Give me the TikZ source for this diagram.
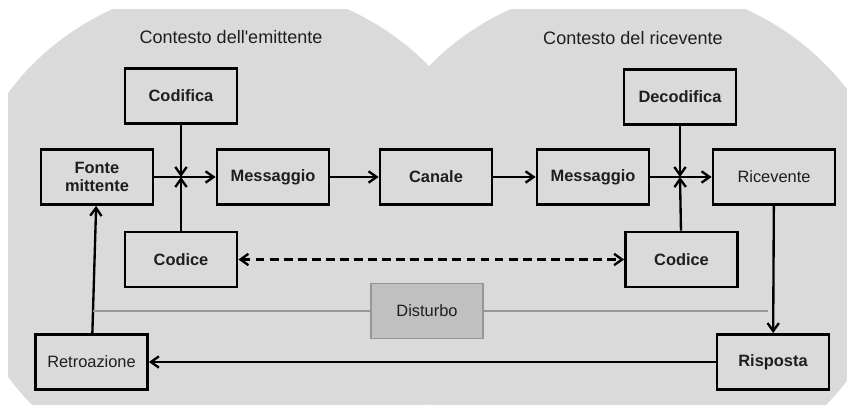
\documentclass[tikz,border=0pt]{standalone}
\usepackage{fontspec}
\setmainfont{Liberation Sans}
\usepackage{tikz}
\usetikzlibrary{arrows.meta,positioning,calc}

\definecolor{ctxgray}{RGB}{218,218,218}
\definecolor{noisegray}{RGB}{192,192,192}
\definecolor{noiseline}{RGB}{150,150,150}
\definecolor{inkgray}{RGB}{30,30,30}

\begin{document}
\begin{tikzpicture}[
    x=0.03cm, y=-0.03cm,
    >={Straight Barb[length=2.4mm,width=3.4mm]},
    stage/.style={
        rectangle,
        draw=black,
        line width=2.4pt,
        fill=ctxgray,
        minimum width=3.36cm,
        minimum height=1.65cm,
        inner sep=2pt,
        text=inkgray,
        font=\fontsize{14}{16}\selectfont,
        align=center
    },
    ctxlabel/.style={
        text=inkgray,
        font=\fontsize{15.4}{18}\selectfont
    },
    flow/.style={
        ->,
        line width=2pt
    },
    noise/.style={
        draw=noiseline,
        line width=1.5pt
    }
]
\useasboundingbox (0,0) rectangle (847,405);

% ---- Sender and receiver contexts (two overlapping discs) ----
\begin{scope}
    \clip (8,10) rectangle (847,405);
    \fill[ctxgray] (230,235) ellipse [x radius=8.07cm, y radius=7.53cm];
    \fill[ctxgray] (628,235) ellipse [x radius=8.07cm, y radius=7.53cm];
\end{scope}

\node[ctxlabel] (ctxsend) at (231,37) {Contesto dell\textquotesingle emittente};
\node[ctxlabel] (ctxrecv) at (633,38) {Contesto del ricevente};

% ---- Top row: coding / decoding ----
\node[stage, font=\fontsize{14}{16}\selectfont\bfseries] (codifica)   at (181,96)  {Codifica};
\node[stage, font=\fontsize{14}{16}\selectfont\bfseries] (decodifica) at (680,97)  {Decodifica};

% ---- Middle row: the message chain ----
\node[stage, font=\fontsize{14}{16}\selectfont\bfseries] (fonte)     at (97,177)  {Fonte\\mittente};
\node[stage, font=\fontsize{14}{16}\selectfont\bfseries] (mess1)     at (273,177) {Messaggio};
\node[stage, font=\fontsize{14}{16}\selectfont\bfseries] (canale)    at (436,177) {Canale};
\node[stage, font=\fontsize{14}{16}\selectfont\bfseries] (mess2)     at (593,177) {Messaggio};
\node[stage, minimum width=3.66cm] (ricevente) at (774,177) {Ricevente};

% ---- Codes ----
\node[stage, font=\fontsize{14}{16}\selectfont\bfseries] (codiceL) at (181,259.5) {Codice};
\node[stage, font=\fontsize{14}{16}\selectfont\bfseries] (codiceR) at (681.5,259.5) {Codice};

% ---- Noise and feedback ----
\node[stage, draw=noiseline, fill=noisegray, line width=1.6pt] (disturbo) at (427,311) {Disturbo};
\node[stage] (retro) at (91.5,362) {Retroazione};
\node[stage, font=\fontsize{14}{16}\selectfont\bfseries] (risposta) at (773,362) {Risposta};

% ---- Junctions where the code meets the message ----
\coordinate (jl) at (codifica.south |- fonte.east);
\coordinate (jr) at (decodifica.south |- ricevente.west);

% ---- Flows ----
\draw[flow] (fonte) -- (mess1);
\draw[flow] (codifica) -- (jl);
\draw[flow] (codiceL) -- (jl);
\draw[flow] (mess1) -- (canale);
\draw[flow] (canale) -- (mess2);
\draw[flow] (mess2) -- (ricevente);
\draw[flow] (decodifica) -- (jr);
\draw[flow] (codiceR) -- (jr);

\draw[flow, <->, dash pattern=on 7.5pt off 4.5pt] (codiceL) -- (codiceR);

\draw[flow] (ricevente) -- (risposta);
\draw[flow] (risposta) -- (retro);
\draw[flow] (retro) -- (fonte);

% ---- Noise band ----
\coordinate (noiseL) at (92.5,311);
\coordinate (noiseR) at (768,311);
\draw[noise] (disturbo) -- (noiseL);
\draw[noise] (disturbo) -- (noiseR);

\end{tikzpicture}
\end{document}
